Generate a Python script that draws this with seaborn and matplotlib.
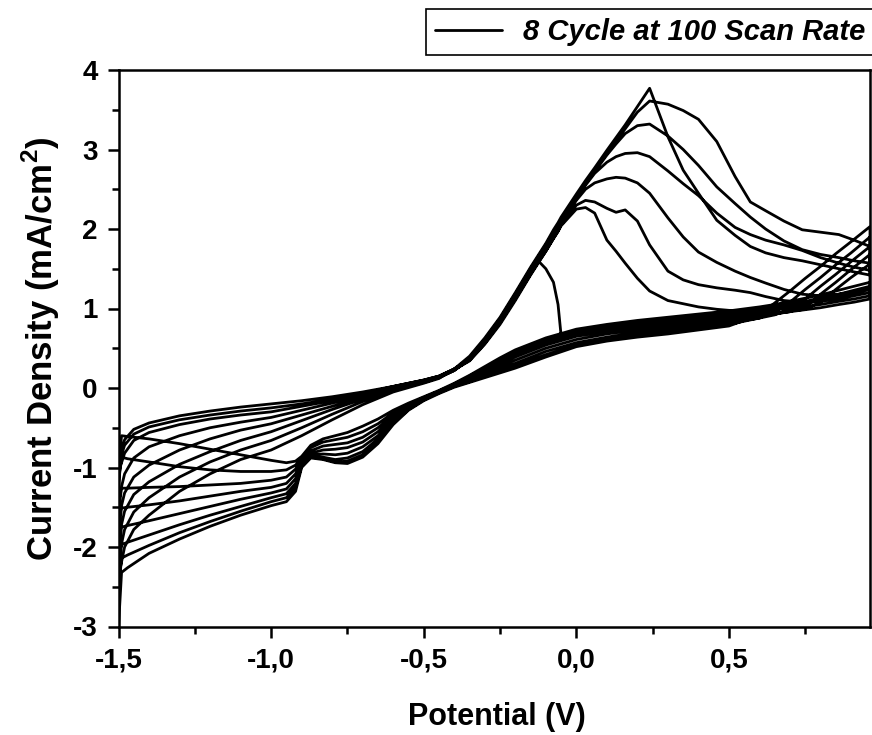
import matplotlib
matplotlib.use("Agg")
import matplotlib.pyplot as plt
import seaborn as sns
import pandas as pd
from matplotlib.ticker import MultipleLocator

# ---------------- data ----------------
# anodic (forward) branch potentials, -1.5 V -> 0.962 V
X_FWD = [-1.5, -1.495, -1.48, -1.45, -1.4, -1.3, -1.2, -1.1, -1.0, -0.9, -0.8, -0.7, -0.6,
         -0.5, -0.45, -0.4,
         -0.35, -0.3, -0.25, -0.2, -0.15, -0.125, -0.1, -0.075, -0.06, -0.05,
         0.0, 0.03, 0.06, 0.1, 0.13, 0.16, 0.2, 0.24,
         0.3, 0.35, 0.4, 0.46, 0.52, 0.57, 0.62, 0.68, 0.74, 0.8, 0.86, 0.91, 0.962]

FWD_1 = [-1.0, -0.85, -0.65, -0.52, -0.44, -0.35, -0.29, -0.24, -0.2, -0.16, -0.11, -0.05, 0.02,
         0.1, 0.15, 0.24,
         0.36, 0.58, 0.84, 1.14, 1.46, 1.6, 1.5, 1.33, 1.05, 0.66,
         0.68, 0.7, 0.71, 0.73, 0.74, 0.75, 0.77, 0.78,
         0.8, 0.82, 0.84, 0.86, 0.88, 0.9, 0.92, 0.95, 0.98, 1.01, 1.05, 1.08, 1.12]
FWD_2 = [-1.05, -0.9, -0.72, -0.58, -0.49, -0.4, -0.34, -0.29, -0.25, -0.2, -0.14, -0.07, 0.02,
         0.1, 0.15, 0.24,
         0.35, 0.56, 0.82, 1.12, 1.43, 1.58, 1.72, 1.88, 1.97, 2.04,
         2.25, 2.27, 2.2, 1.86, 1.72, 1.57, 1.38, 1.22,
         1.1, 1.06, 1.02, 0.99, 0.97, 0.97, 0.98, 1.0, 1.02, 1.05, 1.09, 1.12, 1.16]
FWD_3 = [-1.2, -1.0, -0.82, -0.66, -0.56, -0.46, -0.39, -0.34, -0.3, -0.23, -0.16, -0.08, 0.01,
         0.09, 0.14, 0.23,
         0.34, 0.55, 0.8, 1.1, 1.42, 1.57, 1.72, 1.88, 1.97, 2.05,
         2.3, 2.36, 2.34, 2.26, 2.21, 2.24, 2.1, 1.8,
         1.47, 1.36, 1.3, 1.26, 1.23, 1.2, 1.15, 1.1, 1.08, 1.09, 1.12, 1.16, 1.2]
FWD_4 = [-1.55, -1.32, -1.08, -0.88, -0.74, -0.6, -0.5, -0.43, -0.37, -0.28, -0.19, -0.1, 0.0,
         0.09, 0.14, 0.23,
         0.35, 0.57, 0.82, 1.13, 1.45, 1.6, 1.75, 1.91, 2.0, 2.07,
         2.36, 2.5, 2.58, 2.63, 2.65, 2.64, 2.58, 2.45,
         2.14, 1.9, 1.71, 1.58, 1.47, 1.39, 1.32, 1.24, 1.18, 1.16, 1.18, 1.21, 1.25]
FWD_5 = [-1.8, -1.56, -1.32, -1.12, -0.97, -0.78, -0.64, -0.53, -0.45, -0.34, -0.23, -0.12, -0.01,
         0.08, 0.13, 0.22,
         0.36, 0.58, 0.84, 1.15, 1.47, 1.62, 1.77, 1.93, 2.02, 2.09,
         2.38, 2.55, 2.7, 2.84, 2.91, 2.95, 2.96, 2.91,
         2.73, 2.57, 2.42, 2.2, 2.02, 1.93, 1.86, 1.8, 1.73, 1.64, 1.57, 1.52, 1.48]
FWD_6 = [-2.05, -1.8, -1.55, -1.34, -1.18, -0.96, -0.8, -0.66, -0.55, -0.41, -0.27, -0.14, -0.02,
         0.08, 0.13, 0.22,
         0.37, 0.6, 0.86, 1.17, 1.49, 1.64, 1.79, 1.95, 2.04, 2.11,
         2.4, 2.57, 2.72, 2.93, 3.07, 3.2, 3.3, 3.32,
         3.17, 3.0, 2.8, 2.53, 2.32, 2.15, 2.0, 1.85, 1.74, 1.68, 1.64, 1.6, 1.57]
FWD_7 = [-2.3, -2.05, -1.78, -1.56, -1.38, -1.12, -0.93, -0.78, -0.66, -0.5, -0.33, -0.17, -0.03,
         0.07, 0.13, 0.23,
         0.38, 0.61, 0.87, 1.18, 1.5, 1.65, 1.8, 1.96, 2.05, 2.12,
         2.41, 2.58, 2.74, 2.95, 3.1, 3.26, 3.47, 3.61,
         3.57, 3.49, 3.38, 3.1, 2.66, 2.34, 2.23, 2.1, 1.99, 1.96, 1.93, 1.86, 1.78]
FWD_8 = [-2.55, -2.28, -2.0, -1.78, -1.6, -1.3, -1.08, -0.9, -0.78, -0.6, -0.4, -0.21, -0.05,
         0.06, 0.12, 0.24,
         0.4, 0.63, 0.89, 1.2, 1.52, 1.67, 1.82, 1.99, 2.08, 2.15,
         2.44, 2.61, 2.77, 2.99, 3.15, 3.31, 3.54, 3.77,
         3.16, 2.74, 2.45, 2.11, 1.92, 1.78, 1.7, 1.64, 1.6, 1.55, 1.5, 1.46, 1.42]

# cathodic (reverse) branch potentials, listed ascending (scanned 0.962 V -> -1.5 V)
X_REV = [-1.5, -1.49, -1.47, -1.4, -1.3, -1.2, -1.1, -1.0,
         -0.95, -0.92, -0.9, -0.87, -0.83, -0.79, -0.75, -0.7, -0.65, -0.6,
         -0.55, -0.5, -0.45, -0.4, -0.35, -0.3, -0.25, -0.2,
         -0.1, 0.0, 0.1, 0.2, 0.3, 0.4, 0.5, 0.6, 0.65, 0.7, 0.75, 0.8, 0.85, 0.9, 0.962]

REV_1 = [-1.05, -0.6, -0.61, -0.64, -0.7, -0.77, -0.84, -0.91,
         -0.94, -0.92, -0.86, -0.72, -0.64, -0.6, -0.56, -0.48, -0.39, -0.28,
         -0.19, -0.11, -0.03, 0.06, 0.16, 0.27, 0.38, 0.48,
         0.63, 0.74, 0.8, 0.85, 0.89, 0.93, 0.97, 1.02, 1.05, 1.09, 1.13, 1.17, 1.22, 1.27, 1.33]
REV_2 = [-1.2, -0.87, -0.89, -0.93, -0.99, -1.03, -1.05, -1.05,
         -1.03, -0.97, -0.88, -0.75, -0.68, -0.65, -0.62, -0.55, -0.45, -0.31,
         -0.21, -0.12, -0.04, 0.05, 0.15, 0.25, 0.35, 0.45,
         0.6, 0.71, 0.77, 0.82, 0.86, 0.9, 0.94, 0.99, 1.02, 1.05, 1.09, 1.13, 1.17, 1.22, 1.28]
REV_3 = [-1.55, -1.26, -1.26, -1.25, -1.24, -1.22, -1.2, -1.16,
         -1.12, -1.02, -0.9, -0.79, -0.73, -0.71, -0.69, -0.62, -0.5, -0.34,
         -0.22, -0.12, -0.04, 0.05, 0.14, 0.23, 0.33, 0.42,
         0.57, 0.68, 0.74, 0.79, 0.83, 0.87, 0.91, 0.96, 0.99, 1.02, 1.06, 1.1, 1.14, 1.18, 1.24]
REV_4 = [-1.8, -1.51, -1.5, -1.47, -1.42, -1.36, -1.3, -1.25,
         -1.2, -1.08, -0.92, -0.82, -0.78, -0.77, -0.75, -0.68, -0.55, -0.37,
         -0.24, -0.13, -0.04, 0.04, 0.13, 0.21, 0.3, 0.39,
         0.54, 0.65, 0.71, 0.76, 0.8, 0.84, 0.88, 0.93, 0.95, 0.97, 0.99, 1.08, 1.24, 1.39, 1.56]
REV_5 = [-2.05, -1.75, -1.73, -1.67, -1.58, -1.49, -1.4, -1.32,
         -1.27, -1.14, -0.94, -0.84, -0.83, -0.84, -0.82, -0.74, -0.6, -0.4,
         -0.25, -0.14, -0.05, 0.03, 0.11, 0.19, 0.27, 0.35,
         0.5, 0.61, 0.68, 0.73, 0.77, 0.81, 0.85, 0.9, 0.93, 0.96, 1.02, 1.18, 1.33, 1.49, 1.68]
REV_6 = [-2.3, -1.97, -1.94, -1.85, -1.72, -1.6, -1.49, -1.38,
         -1.33, -1.2, -0.96, -0.86, -0.87, -0.9, -0.88, -0.8, -0.64, -0.42,
         -0.26, -0.14, -0.05, 0.02, 0.09, 0.17, 0.24, 0.31,
         0.46, 0.57, 0.64, 0.7, 0.74, 0.78, 0.82, 0.88, 0.92, 0.99, 1.12, 1.28, 1.43, 1.59, 1.78]
REV_7 = [-2.55, -2.14, -2.1, -1.98, -1.82, -1.68, -1.55, -1.43,
         -1.38, -1.25, -0.98, -0.87, -0.89, -0.93, -0.92, -0.84, -0.67, -0.44,
         -0.27, -0.15, -0.06, 0.02, 0.08, 0.15, 0.21, 0.28,
         0.42, 0.54, 0.61, 0.67, 0.71, 0.76, 0.8, 0.88, 0.96, 1.08, 1.24, 1.39, 1.55, 1.7, 1.9]
REV_8 = [-3.0, -2.32, -2.26, -2.08, -1.9, -1.74, -1.6, -1.48,
         -1.43, -1.3, -1.0, -0.88, -0.9, -0.94, -0.95, -0.87, -0.7, -0.46,
         -0.28, -0.16, -0.07, 0.01, 0.07, 0.13, 0.19, 0.25,
         0.39, 0.52, 0.59, 0.64, 0.68, 0.73, 0.78, 0.92, 1.07, 1.22, 1.38, 1.53, 1.69, 1.84, 2.03]

X_TICKS = [-1.5, -1.0, -0.5, 0.0, 0.5]
X_TICK_LABELS = ["-1,5", "-1,0", "-0,5", "0,0", "0,5"]
Y_TICKS = [-3, -2, -1, 0, 1, 2, 3, 4]
Y_TICK_LABELS = ["-3", "-2", "-1", "0", "1", "2", "3", "4"]
X_LABEL = "Potential (V)"
Y_LABEL = r"Current Density (mA/cm$^{\mathbf{2}}$)"
LEGEND_LABEL = "8 Cycle at 100 Scan Rate"

# ---------------- assemble one continuous trace ----------------
forward = [FWD_1, FWD_2, FWD_3, FWD_4, FWD_5, FWD_6, FWD_7, FWD_8]
reverse = [REV_1, REV_2, REV_3, REV_4, REV_5, REV_6, REV_7, REV_8]
rows = []
for cyc, (f, r) in enumerate(zip(forward, reverse), start=1):
    assert len(f) == len(X_FWD), (cyc, len(f))
    assert len(r) == len(X_REV), (cyc, len(r))
    for x, y in zip(X_FWD, f):
        rows.append((x, y, cyc))
    for x, y in zip(X_REV[::-1], r[::-1]):
        rows.append((x, y, cyc))
df = pd.DataFrame(rows, columns=["potential", "current", "cycle"])

# ---------------- style ----------------
sns.set_theme(style="ticks")
plt.rcParams["font.family"] = ["Liberation Sans", "DejaVu Sans"]
plt.rcParams["font.weight"] = "bold"
plt.rcParams["axes.labelweight"] = "bold"
plt.rcParams["mathtext.fontset"] = "custom"
plt.rcParams["mathtext.rm"] = "Liberation Sans:bold"
plt.rcParams["mathtext.bf"] = "Liberation Sans:bold"
plt.rcParams["axes.edgecolor"] = "black"
plt.rcParams["xtick.color"] = "black"
plt.rcParams["ytick.color"] = "black"
plt.rcParams["text.color"] = "black"
plt.rcParams["axes.labelcolor"] = "black"

fig = plt.figure(figsize=(8.72, 7.35), dpi=100)
ax = fig.add_axes([118.5 / 872, 1 - 626.5 / 735, (870 - 118.5) / 872, (626.5 - 70) / 735])

sns.lineplot(data=df, x="potential", y="current", sort=False, estimator=None,
             color="black", linewidth=2.0, ax=ax, legend=False)

ax.set_xlim(-1.5, 0.962)
ax.set_ylim(-3, 4)
ax.set_xticks(X_TICKS)
ax.set_xticklabels(X_TICK_LABELS)
ax.set_yticks(Y_TICKS)
ax.set_yticklabels(Y_TICK_LABELS)
ax.xaxis.set_minor_locator(MultipleLocator(0.25))
ax.yaxis.set_minor_locator(MultipleLocator(0.5))
ax.tick_params(which="major", direction="out", length=8, width=1.8, labelsize=20, pad=7,
               top=False, right=False)
ax.tick_params(which="minor", direction="out", length=5, width=1.8, top=False, right=False)
for lab in ax.get_xticklabels() + ax.get_yticklabels():
    lab.set_fontweight("bold")
for sp in ax.spines.values():
    sp.set_visible(True)
    sp.set_linewidth(1.8)
    sp.set_color("black")

ax.set_xlabel(X_LABEL, fontsize=22, fontweight="bold")
ax.set_ylabel(Y_LABEL, fontsize=25, fontweight="bold")
ax.xaxis.set_label_coords(0.504, -0.135)
ax.yaxis.set_label_coords(-0.075, 0.5)

leg = ax.legend([ax.lines[0]], [LEGEND_LABEL], loc="upper left",
                bbox_to_anchor=(426 / 872, 1 - 9 / 735), bbox_transform=fig.transFigure,
                frameon=True, fancybox=False, shadow=False, framealpha=1,
                borderpad=0.3, handlelength=2.3, handletextpad=0.72, borderaxespad=0.0,
                prop={"family": "Liberation Sans", "weight": "bold", "style": "italic", "size": 21})
leg.get_frame().set_edgecolor("black")
leg.get_frame().set_linewidth(1.2)
leg.get_frame().set_facecolor("white")

fig.savefig("out.png", dpi=100)
